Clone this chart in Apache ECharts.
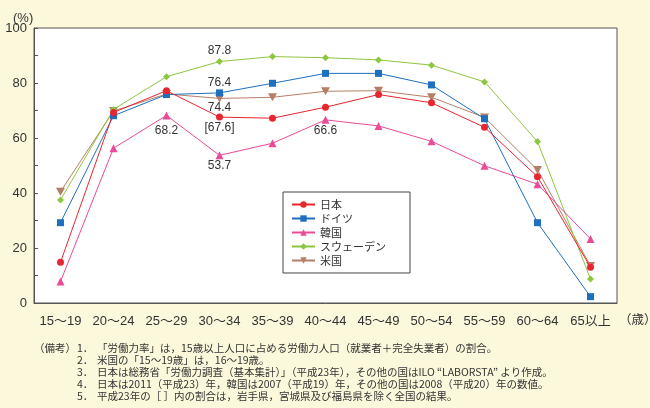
<!DOCTYPE html>
<html><head><meta charset="utf-8">
<script src="https://cdn.jsdelivr.net/npm/echarts@6/dist/echarts.min.js"></script>
<style>html,body{margin:0;padding:0;background:#fcf8dc;}#c{width:650px;height:408px;}</style>
</head><body><div id="c"></div>
<script>
const categories = ['15～19','20～24','25～29','30～34','35～39','40～44','45～49','50～54','55～59','60～64','65以上'];
const japan   = [14.8, 69.3, 77.2, 67.6, 67.2, 71.2, 75.8, 72.8, 63.9, 45.9, 13.0];
const germany = [29.2, 68.1, 75.8, 76.4, 79.9, 83.5, 83.5, 79.3, 67.0, 29.2, 2.3];
const korea   = [7.8, 56.3, 68.2, 53.7, 58.1, 66.6, 64.4, 58.8, 49.9, 43.2, 23.3];
const sweden  = [37.5, 70.4, 82.3, 87.8, 89.6, 89.2, 88.4, 86.5, 80.4, 58.7, 8.7];
const usa     = [40.5, 69.8, 76.0, 74.4, 74.8, 77.0, 77.2, 74.8, 67.5, 48.4, 13.5];
const seriesNames = ['日本','ドイツ','韓国','スウェーデン','米国'];
const yTicks = [0, 20, 40, 60, 80, 100];
const xUnit = '（歳）';
const yUnit = '(%)';
const notesHead = '（備考）';
const noteNums = ['1．', '2．', '3．', '4．', '5．'];
const notes = [
  '「労働力率」は，15歳以上人口に占める労働力人口（就業者＋完全失業者）の割合。',
  '米国の「15～19歳」は，16～19歳。',
  '日本は総務省「労働力調査（基本集計）」（平成23年），その他の国はILO “LABORSTA” より作成。',
  '日本は2011（平成23）年，韓国は2007（平成19）年，その他の国は2008（平成20）年の数値。',
  '平成23年の［ ］内の割合は，岩手県，宮城県及び福島県を除く全国の結果。'
];
// labelled points: [seriesIndex, dataIndex, position, text, distance]
const labelled = [
  [3, 3, 'top', null, 1],
  [1, 3, 'top', null, 1],
  [4, 3, 'bottom', null, -1],
  [0, 3, 'bottom', '[67.6]', 1],
  [2, 2, 'bottom', null, 5],
  [2, 3, 'bottom', null, 0],
  [2, 5, 'bottom', null, 1]
];
const colors = ['#e8262f', '#1f6fbf', '#e94b97', '#8dc63f', '#b57f67'];
const symbols = ['circle', 'rect', 'triangle', 'diamond', 'path://M0,0 L10,0 L5,9 Z'];
const datas = [japan, germany, korea, sweden, usa];

function makeData(si) {
  return datas[si].map((v, i) => {
    const l = labelled.find(x => x[0] === si && x[1] === i);
    if (!l) return v;
    return {value: v, label: {show: true, position: l[2], distance: l[4],
      formatter: l[3] ? l[3] : String(v.toFixed(1)), color: '#333', fontSize: 12,
      fontFamily: 'Liberation Sans, Arial, sans-serif'}};
  });
}

const txt = (t, left, top, size, font) => ({type: 'text', left, top,
  style: {text: t, fontSize: size, fill: '#333', fontFamily: font || 'Noto Sans CJK JP'}});

const graphics = [txt(xUnit, 619, 313, 12.5), txt(notesHead, 34, 343, 10.5)];
notes.forEach((t, i) => {
  graphics.push(txt(noteNums[i], 77, 343 + i * 12, 10.5));
  graphics.push(txt(t, 97, 343 + i * 12, 10.5));
});

const chart = echarts.init(document.getElementById('c'));
chart.setOption({
  backgroundColor: '#fcf8dc',
  animation: false,
  grid: {left: 34, right: 33, top: 28, bottom: 105, show: true, backgroundColor: '#fff', borderColor: '#555', borderWidth: 1},
  title: {text: yUnit, left: 8, top: 7, textStyle: {fontSize: 13, fontWeight: 'normal', color: '#333', fontFamily: 'Liberation Sans, Arial, sans-serif'}},
  legend: {
    orient: 'vertical', left: 283, top: 192, data: seriesNames,
    backgroundColor: '#fff', borderColor: '#444', borderWidth: 1,
    padding: [7, 24, 7, 8], itemGap: 3, itemWidth: 23, itemHeight: 8,
    textStyle: {fontSize: 11, color: '#333', fontFamily: 'Noto Sans CJK JP'}
  },
  xAxis: {
    type: 'category', data: categories, boundaryGap: true,
    axisLine: {lineStyle: {color: '#555'}},
    axisTick: {alignWithLabel: true, inside: true, length: 4, lineStyle: {color: '#555'}},
    axisLabel: {margin: 12, fontSize: 13, color: '#333', interval: 0, fontFamily: 'Liberation Sans, Noto Sans CJK JP, sans-serif'}
  },
  yAxis: {
    type: 'value', min: 0, max: 100, interval: 10,
    axisLine: {show: true, lineStyle: {color: '#555'}},
    axisTick: {show: true, inside: true, length: 4, lineStyle: {color: '#555'}},
    splitLine: {show: false},
    axisLabel: {margin: 7, fontSize: 13, color: '#333', fontFamily: 'Liberation Sans, Arial, sans-serif',
      formatter: v => yTicks.includes(v) ? String(v) : ''}
  },
  series: seriesNames.map((n, si) => ({
    name: n, type: 'line', data: makeData(si),
    symbol: symbols[si], symbolSize: si === 4 ? [9, 8] : (si === 2 ? 8 : 7),
    lineStyle: {width: 1, color: colors[si]},
    itemStyle: {color: colors[si]},
    z: 10 - si
  })),
  graphic: graphics
});
</script></body></html>
